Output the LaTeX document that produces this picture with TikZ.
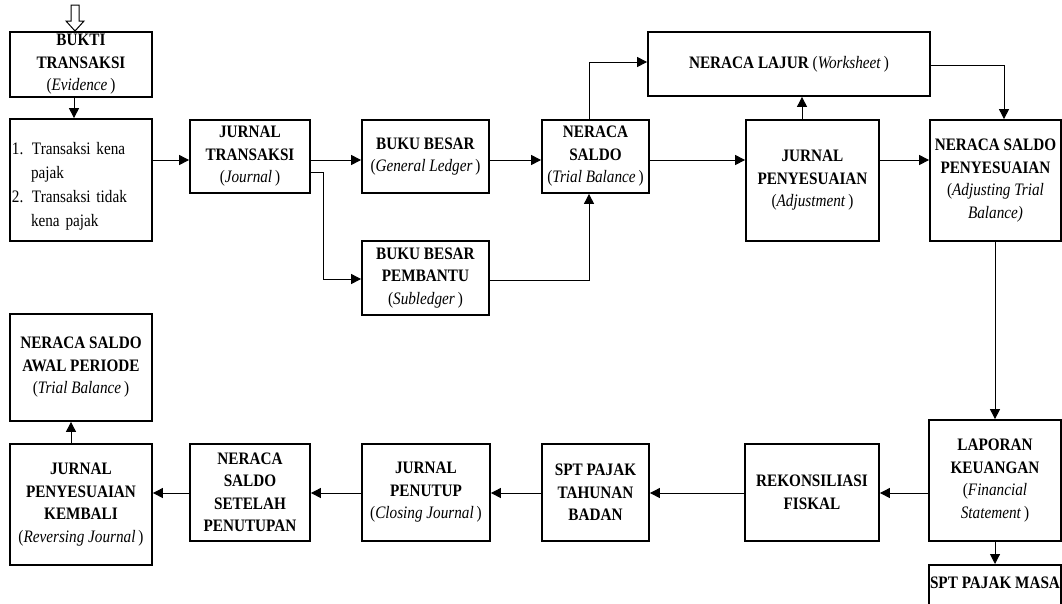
\documentclass[tikz,border=0pt]{standalone}
\usepackage{fontspec}
\setmainfont{Liberation Serif}[FakeStretch=0.87]
\usetikzlibrary{arrows.meta}
\begin{document}
\begin{tikzpicture}[x=1pt,y=-1pt,
  box/.style={draw, line width=1.8pt, inner sep=0pt, align=center, font=\fontsize{17.5}{22.5}\selectfont},
  arr/.style={line width=1pt, -{Triangle[length=10pt,width=10pt]}},
  hollow/.style={line width=1pt, fill=white}]
\useasboundingbox (0,0) rectangle (1062,603);
\clip (0,0) rectangle (1062,603);
% helper coordinates
\coordinate (h62) at (0,62);
\coordinate (h65) at (0,65);
\coordinate (h160) at (0,160);
\coordinate (h172) at (0,172);
\coordinate (h279) at (0,279);
\coordinate (h280) at (0,280);
\coordinate (h493) at (0,493);
\coordinate (v71) at (71,0);
\coordinate (v74) at (74,0);
\coordinate (v589) at (589,0);
\coordinate (v802) at (802,0);
\coordinate (v995) at (995,0);
\coordinate (v1004) at (1004,0);
% boxes
\node[box, minimum width=142, minimum height=65] (bukti) at (81,64.5)
  {\textbf{BUKTI}\\\textbf{TRANSAKSI}\\(\textit{Evidence}\,)};
\node[box, minimum width=142, minimum height=122, text width=138, align=left,
  font=\fontsize{17.5}{24}\selectfont] (list) at (81,180)
  {\mbox{}\\\mbox{\makebox[20pt][l]{1.}Transaksi kena}\\\mbox{\hspace*{19pt}pajak}\\\mbox{\makebox[20pt][l]{2.}Transaksi tidak}\\\mbox{\hspace*{19pt}kena pajak}};
\node[box, minimum width=120, minimum height=73] (jt) at (250,156.5)
  {\textbf{JURNAL}\\\textbf{TRANSAKSI}\\(\textit{Journal}\,)};
\node[box, minimum width=127, minimum height=73] (bb) at (425.5,156.5)
  {\textbf{BUKU BESAR}\\(\textit{General Ledger}\,)};
\node[box, minimum width=127, minimum height=74] (bbp) at (425.5,278)
  {\textbf{BUKU BESAR}\\\textbf{PEMBANTU}\\(\textit{Subledger}\,)};
\node[box, minimum width=107, minimum height=73] (ns) at (595.5,156.5)
  {\textbf{NERACA}\\\textbf{SALDO}\\(\textit{Trial Balance}\,)};
\node[box, minimum width=282, minimum height=64] (lajur) at (789,64)
  {\textbf{NERACA LAJUR} (\textit{Worksheet}\,)};
\node[box, minimum width=133, minimum height=121] (jp) at (812.5,180.5)
  {\textbf{JURNAL}\\\textbf{PENYESUAIAN}\\(\textit{Adjustment}\,)};
\node[box, minimum width=131, minimum height=121] (nsp) at (995.5,180.5)
  {\textbf{NERACA SALDO}\\\textbf{PENYESUAIAN}\\(\textit{Adjusting Trial}\\\textit{Balance)}};
\node[box, minimum width=132, minimum height=121] (lap) at (995,480.5)
  {\textbf{LAPORAN}\\\textbf{KEUANGAN}\\(\textit{Financial}\\\textit{Statement}\,)};
\node[box, minimum width=132, minimum height=80, anchor=north, align=none,
  text height=12pt, text depth=56pt, inner ysep=12pt] (sptm) at (995,564)
  {\textbf{SPT PAJAK MASA}};
\node[box, minimum width=134, minimum height=97] (rekon) at (812,492.5)
  {\textbf{REKONSILIASI}\\\textbf{FISKAL}};
\node[box, minimum width=107, minimum height=97] (sptt) at (595.5,492.5)
  {\textbf{SPT PAJAK}\\\textbf{TAHUNAN}\\\textbf{BADAN}};
\node[box, minimum width=128, minimum height=97] (jpen) at (426,492.5)
  {\textbf{JURNAL}\\\textbf{PENUTUP}\\(\textit{Closing Journal}\,)};
\node[box, minimum width=120, minimum height=97] (nss) at (250,492.5)
  {\textbf{NERACA}\\\textbf{SALDO}\\\textbf{SETELAH}\\\textbf{PENUTUPAN}};
\node[box, minimum width=142, minimum height=121] (jpk) at (81,504.5)
  {\textbf{JURNAL}\\\textbf{PENYESUAIAN}\\\textbf{KEMBALI}\\(\textit{Reversing Journal}\,)};
\node[box, minimum width=142, minimum height=107] (awal) at (81,367.5)
  {\textbf{NERACA SALDO}\\\textbf{AWAL PERIODE}\\(\textit{Trial Balance}\,)};
% hollow entry arrow
\draw[hollow] (71,5) -- (79,5) -- (79,21) -- (84,21) -- (75,31) -- (66,21) -- (71,21) -- cycle;
% connectors
\draw[arr] (bukti.south -| v74) -- (list.north -| v74);
\draw[arr] (list.east |- h160) -- (jt.west |- h160);
\draw[arr] (jt.east |- h160) -- (bb.west |- h160);
\draw[arr] (jt.east |- h172) -- ++(13,0) |- (bbp.west |- h279);
\draw[arr] (bb.east |- h160) -- (ns.west |- h160);
\draw[arr] (bbp.east |- h280) -| (ns.south -| v589);
\draw[arr] (ns.north -| v589) |- (lajur.west |- h62);
\draw[arr] (ns.east |- h160) -- (jp.west |- h160);
\draw[arr] (jp.north -| v802) -- (lajur.south -| v802);
\draw[arr] (jp.east |- h160) -- (nsp.west |- h160);
\draw[arr] (lajur.east |- h65) -| (nsp.north -| v1004);
\draw[arr] (nsp.south -| v995) -- (lap.north -| v995);
\draw[arr] (lap.south -| v995) -- (sptm.north -| v995);
\draw[arr] (lap.west |- h493) -- (rekon.east |- h493);
\draw[arr] (rekon.west |- h493) -- (sptt.east |- h493);
\draw[arr] (sptt.west |- h493) -- (jpen.east |- h493);
\draw[arr] (jpen.west |- h493) -- (nss.east |- h493);
\draw[arr] (nss.west |- h493) -- (jpk.east |- h493);
\draw[arr] (jpk.north -| v71) -- (awal.south -| v71);
\end{tikzpicture}
\end{document}
